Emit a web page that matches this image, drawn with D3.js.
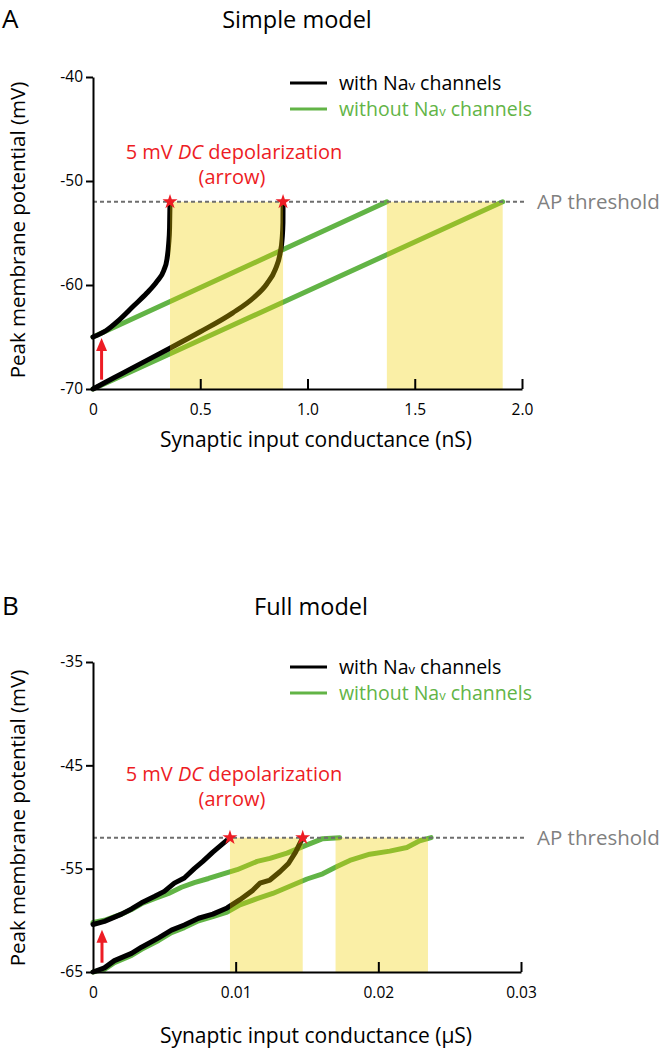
<!DOCTYPE html>
<html>
<head>
<meta charset="utf-8">
<script src="https://cdn.jsdelivr.net/npm/d3@7"></script>
<style>
  body { margin: 0; background: #fff; }
  svg { display: block; }
  text { font-family: "Open Sans", "Noto Sans", sans-serif; }
</style>
</head>
<body>
<svg id="chart" width="662" height="1050"></svg>
<script>
// ---------------- DATA ----------------
const thresholdV = -52;

// Panel A (Simple model) : conductance in nS, potential in mV
const A_xTicks = [0, 0.5, 1.0, 1.5, 2.0];
const A_xTickLabels = ["0", "0.5", "1.0", "1.5", "2.0"];
const A_yTicks = [-40, -50, -60, -70];
const A_greenUpper = [[0, -65], [1.37, -52]];
const A_greenLower = [[0, -70], [1.91, -52]];
const A_blackUpper = [[0, -65], [0.06, -64.4], [0.12, -63.4], [0.19, -62.0], [0.25, -60.8], [0.3, -59.6],
  [0.33, -58.6], [0.345, -57.5], [0.353, -56.0], [0.357, -54.5], [0.359, -52]];
const A_blackLower = [[0, -70], [0.1, -68.9], [0.2, -67.8], [0.343, -66.25], [0.5, -64.5], [0.65, -62.7],
  [0.75, -61.2], [0.81, -59.9], [0.85, -58.5], [0.872, -57.0], [0.882, -55.5], [0.8855, -54], [0.886, -52]];
const A_bands = [[0.359, 0.886], [1.37, 1.91]];
const A_stars = [0.359, 0.886];
const A_arrow = [0.04, -69.1, -65.1];

// Panel B (Full model) : conductance in µS, potential in mV
const B_xTicks = [0, 0.01, 0.02, 0.03];
const B_xTickLabels = ["0", "0.01", "0.02", "0.03"];
const B_yTicks = [-35, -45, -55, -65];
const B_greenUpper = [[0, -60.2], [0.0008, -60.0], [0.002, -59.4], [0.0027, -58.95], [0.0034, -58.4],
  [0.0043, -57.9], [0.0053, -57.4], [0.0062, -56.8], [0.0071, -56.35], [0.0081, -55.95], [0.0089, -55.6],
  [0.0101, -55.1], [0.0115, -54.3], [0.0124, -54.0], [0.0136, -53.5], [0.015, -52.7], [0.0161, -52.1], [0.0173, -52]];
const B_greenLower = [[0, -65], [0.0008, -64.75], [0.0015, -64.1], [0.0027, -63.4], [0.0034, -62.8],
  [0.0046, -61.95], [0.0055, -61.2], [0.0064, -60.7], [0.0074, -60.05], [0.0084, -59.65], [0.0094, -59.2],
  [0.0103, -58.5], [0.0115, -57.9], [0.0126, -57.4], [0.0138, -56.7], [0.015, -56.0], [0.0161, -55.5],
  [0.0171, -54.8], [0.018, -54.2], [0.0194, -53.6], [0.0208, -53.3], [0.022, -52.95], [0.0229, -52.3], [0.0237, -52]];
const B_blackUpper = [[0, -60.4], [0.0008, -60.1], [0.002, -59.4], [0.0027, -58.9], [0.0034, -58.3],
  [0.0043, -57.7], [0.005, -57.2], [0.0057, -56.4], [0.0064, -55.9], [0.0071, -55.0], [0.0077, -54.3],
  [0.0084, -53.4], [0.009, -52.7], [0.0096, -52]];
const B_blackLower = [[0, -65], [0.0008, -64.6], [0.0015, -63.9], [0.0027, -63.2], [0.0034, -62.6],
  [0.0046, -61.7], [0.0055, -60.95], [0.0064, -60.45], [0.0074, -59.8], [0.0084, -59.4], [0.0094, -58.8],
  [0.0103, -58.0], [0.0112, -57.1], [0.0117, -56.4], [0.0124, -56.1], [0.0131, -55.3], [0.0137, -54.5],
  [0.0142, -53.4], [0.0147, -52]];
const B_bands = [[0.0096, 0.0147], [0.0170, 0.02348]];
const B_stars = [0.0096, 0.0147];
const B_arrow = [0.00063, -64.1, -60.9];

// ---------------- STYLE ----------------
const GREEN = "#62b446";
const RED = "#ed1c24";
const svg = d3.select("#chart");

function drawPanel(p) {
  const x = d3.scaleLinear().domain(p.xDomain).range([93, p.xRight]);
  const y = d3.scaleLinear().domain(p.yDomain).range([p.yBottom, p.yTop]);
  const g = svg.append("g");

  // panel letter & title
  g.append("text").attr("x", 2).attr("y", p.letterY).attr("font-size", 26).text(p.letter);
  g.append("text").attr("x", p.titleX).attr("y", p.letterY).attr("font-size", 23.5)
    .attr("text-anchor", "middle").text(p.title);

  // legend
  const leg = [["with ", "#000"], ["without ", GREEN]];
  leg.forEach((d, i) => {
    const ly = p.legendY + i * 26;
    g.append("line").attr("x1", 290).attr("x2", 327).attr("y1", ly).attr("y2", ly)
      .attr("stroke", d[1]).attr("stroke-width", 3);
    const t = g.append("text").attr("x", 339).attr("y", ly + 6.5).attr("font-size", 19.5).attr("fill", d[1]);
    t.append("tspan").text(d[0] + "Na");
    t.append("tspan").attr("font-size", 13).text("v");
    t.append("tspan").text(" channels");
  });

  // annotation
  const ann = g.append("text").attr("x", 234).attr("y", p.annY).attr("font-size", 20)
    .attr("text-anchor", "middle").attr("fill", RED);
  ann.append("tspan").text("5 mV ");
  ann.append("tspan").attr("font-style", "italic").text("DC");
  ann.append("tspan").text(" depolarization");
  g.append("text").attr("x", 232).attr("y", p.annY + 25).attr("font-size", 20)
    .attr("text-anchor", "middle").attr("fill", RED).text("(arrow)");

  // lines
  const line = d3.line().x(d => x(d[0])).y(d => y(d[1])).curve(p.curve);
  [[p.greenUpper, GREEN], [p.greenLower, GREEN], [p.blackUpper, "#000"], [p.blackLower, "#000"]]
    .forEach(([data, c]) => {
      g.append("path").attr("d", line(data)).attr("fill", "none").attr("stroke", c)
        .attr("stroke-width", 5).attr("stroke-linejoin", "round").attr("stroke-linecap", "round");
    });

  // yellow bands (translucent overlay)
  p.bands.forEach(b => {
    g.append("rect").attr("x", x(b[0])).attr("width", x(b[1]) - x(b[0]))
      .attr("y", y(thresholdV)).attr("height", y(p.yDomain[0]) - y(thresholdV))
      .attr("fill", "#f0d000").attr("fill-opacity", 0.35);
  });

  // threshold dashed line
  g.append("line").attr("x1", x(p.xDomain[0])).attr("x2", p.xRight + 5)
    .attr("y1", y(thresholdV)).attr("y2", y(thresholdV))
    .attr("stroke", "#6e6e6e").attr("stroke-width", 2).attr("stroke-dasharray", "4,3");
  g.append("text").attr("x", 537).attr("y", y(thresholdV) + 7).attr("font-size", 20.5)
    .attr("fill", "#808080").text("AP threshold");

  // stars
  p.stars.forEach(s => {
    g.append("path").attr("d", d3.symbol().type(d3.symbolStar).size(70)())
      .attr("transform", `translate(${x(s)},${y(thresholdV)})`).attr("fill", RED);
  });

  // arrow
  const ax = x(p.arrow[0]), ay1 = y(p.arrow[1]), ay2 = y(p.arrow[2]);
  g.append("line").attr("x1", ax).attr("x2", ax).attr("y1", ay1).attr("y2", ay2 + 10)
    .attr("stroke", RED).attr("stroke-width", 3);
  g.append("path").attr("d", `M${ax},${ay2} L${ax - 5.5},${ay2 + 13} L${ax + 5.5},${ay2 + 13} Z`).attr("fill", RED);

  // axes
  const xAxis = d3.axisBottom(x).tickValues(p.xTicks).tickFormat((d, i) => p.xTickLabels[i])
    .tickSizeInner(-10).tickSizeOuter(0).tickPadding(15);
  const gx = g.append("g").attr("transform", `translate(0,${y(p.yDomain[0])})`).call(xAxis);
  const yAxis = d3.axisLeft(y).tickValues(p.yTicks).tickFormat(d => String(d))
    .tickSizeInner(7).tickSizeOuter(0).tickPadding(3);
  const gy = g.append("g").attr("transform", `translate(93,0)`).call(yAxis);
  [gx, gy].forEach(a => {
    a.attr("font-family", "'Open Sans', sans-serif").attr("font-size", 15.5);
    a.selectAll("path, line").attr("stroke", "#000").attr("stroke-width", 2);
    a.selectAll("text").attr("fill", "#000");
  });
  gx.selectAll(".tick").filter(d => d === 0).select("line").remove();

  // axis titles
  g.append("text").attr("transform", `translate(25,${p.yLabelY}) rotate(-90)`)
    .attr("text-anchor", "middle").attr("font-size", 20.5).text("Peak membrane potential (mV)");
  g.append("text").attr("x", 316).attr("y", p.xLabelY).attr("text-anchor", "middle")
    .attr("font-size", 21).text(p.xLabel);
}

drawPanel({
  letter: "A", letterY: 28, title: "Simple model", titleX: 297,
  legendY: 83, annY: 159,
  xDomain: [0, 2], xRight: 522, yDomain: [-70, -40], yTop: 77, yBottom: 389,
  xTicks: A_xTicks, xTickLabels: A_xTickLabels, yTicks: A_yTicks,
  greenUpper: A_greenUpper, greenLower: A_greenLower, blackUpper: A_blackUpper, blackLower: A_blackLower,
  bands: A_bands, stars: A_stars, arrow: A_arrow, curve: d3.curveMonotoneX,
  yLabelY: 230, xLabelY: 447, xLabel: "Synaptic input conductance (nS)"
});

drawPanel({
  letter: "B", letterY: 615, title: "Full model", titleX: 311,
  legendY: 667, annY: 781,
  xDomain: [0, 0.03], xRight: 521, yDomain: [-65, -35], yTop: 662, yBottom: 972,
  xTicks: B_xTicks, xTickLabels: B_xTickLabels, yTicks: B_yTicks,
  greenUpper: B_greenUpper, greenLower: B_greenLower, blackUpper: B_blackUpper, blackLower: B_blackLower,
  bands: B_bands, stars: B_stars, arrow: B_arrow, curve: d3.curveLinear,
  yLabelY: 818, xLabelY: 1043, xLabel: "Synaptic input conductance (\u00b5S)"
});
</script>
</body>
</html>
